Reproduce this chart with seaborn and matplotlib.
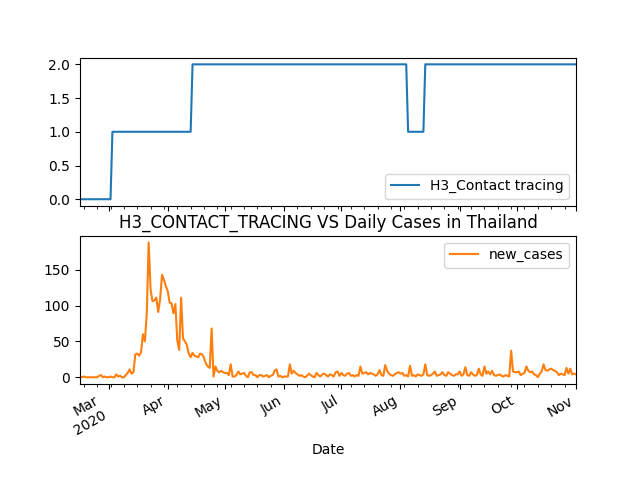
import pandas as pd
import matplotlib
matplotlib.use('Agg')
import matplotlib.pyplot as plt
import matplotlib.dates as mdates
from matplotlib.ticker import FuncFormatter
import seaborn as sns

# daily new cases in Thailand, 15 Feb - 1 Nov 2020
cases_feb = [1, 0, 1, 0, 0, 0, 0, 0, 0, 0, 2, 3, 0, 1, 0]
cases_mar = [0, 1, 0, 0, 4, 1, 2, 0, 0, 3, 6, 11, 5, 7, 32, 33, 30, 35, 60, 50,
             89, 188, 122, 106, 107, 111, 91, 109, 143, 136, 127]
cases_apr = [120, 104, 103, 89, 102, 51, 38, 111, 54, 50, 45, 33, 28, 34, 30,
             29, 28, 33, 32, 27, 19, 15, 13, 68, 1, 15, 9, 7, 9, 7]
cases_may = [6, 6, 3, 18, 1, 1, 3, 8, 4, 5, 6, 2, 0, 7, 7, 3, 3, 0, 3, 3,
             1, 2, 3, 0, 2, 3, 9, 11, 1, 2, 0]
cases_jun = [1, 1, 1, 18, 5, 9, 6, 4, 2, 3, 1, 0, 2, 5, 3, 1, 0, 6, 3, 1,
             4, 5, 3, 1, 4, 3, 1, 7, 8, 2]
cases_jul = [6, 3, 2, 5, 6, 2, 3, 1, 3, 2, 15, 5, 6, 7, 4, 6, 5, 4, 2, 4,
             10, 3, 2, 17, 9, 5, 3, 2, 4, 6, 7]
cases_aug = [5, 6, 2, 3, 1, 16, 2, 3, 1, 4, 3, 2, 4, 18, 3, 2, 3, 5, 8, 2,
             3, 4, 7, 3, 2, 7, 5, 3, 2, 4, 4]
cases_sep = [8, 2, 4, 14, 3, 2, 7, 4, 2, 3, 12, 4, 2, 15, 5, 8, 4, 9, 3, 2,
             3, 4, 2, 1, 3, 2, 1, 37, 8, 7]
cases_oct = [7, 8, 3, 5, 6, 15, 9, 7, 8, 4, 3, 0, 5, 8, 18, 10, 9, 11, 12, 10,
             9, 7, 3, 5, 4, 3, 13, 5, 12, 4, 5]
cases_nov = [4]

# contact tracing level, listed at the days it changed
h3_change_dates = ['2020-02-15', '2020-03-03', '2020-04-14', '2020-08-05', '2020-08-14']
h3_levels = [0, 1, 2, 1, 2]

dates = pd.date_range('2020-02-15', '2020-11-01', freq='D')
new_cases = (cases_feb + cases_mar + cases_apr + cases_may + cases_jun
             + cases_jul + cases_aug + cases_sep + cases_oct + cases_nov)
h3 = pd.Series(h3_levels, index=pd.to_datetime(h3_change_dates)).reindex(dates, method='ffill')

df = pd.DataFrame({'Date': dates,
                   'H3_Contact tracing': h3.values,
                   'new_cases': new_cases})

fig, (ax1, ax2) = plt.subplots(2, 1, sharex=True, figsize=(6.4, 4.8), dpi=100)
sns.lineplot(data=df, x='Date', y='H3_Contact tracing', ax=ax1, color='C0',
             label='H3_Contact tracing')
sns.lineplot(data=df, x='Date', y='new_cases', ax=ax2, color='C1',
             label='new_cases')

ax1.legend(loc='lower right')
ax2.legend(loc='upper right')
ax1.set_xlabel('')
ax1.set_ylabel('')
ax2.set_ylabel('')
ax2.set_xlabel('Date')
ax2.set_title('H3_CONTACT_TRACING VS Daily Cases in Thailand')

# month ticks like pandas, weekly minor ticks
ax2.xaxis.set_major_locator(mdates.MonthLocator())
ax2.xaxis.set_minor_locator(mdates.WeekdayLocator(byweekday=mdates.MO))
ax2.xaxis.set_major_formatter(FuncFormatter(
    lambda x, pos: mdates.num2date(x).strftime('%b\n%Y' if pos == 0 else '%b')))
ax2.set_xlim(dates[0], dates[-1])

fig.autofmt_xdate()
fig.savefig('out.png', dpi=100)
